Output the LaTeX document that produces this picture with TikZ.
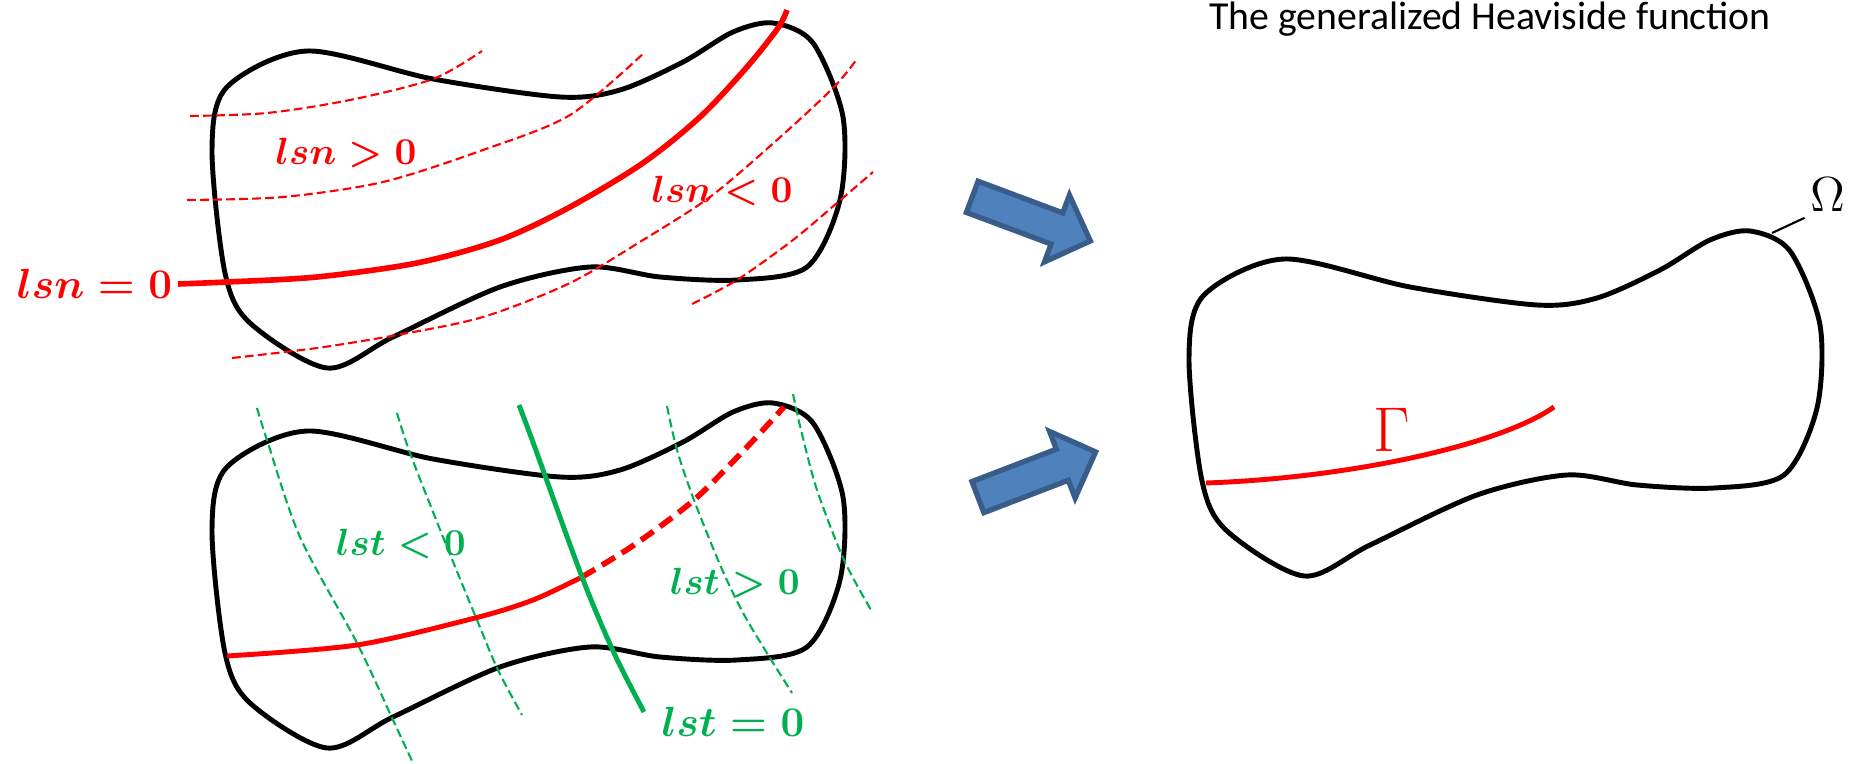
\RequirePackage{fix-cm}
\documentclass[tikz,border=0pt]{standalone}
\usepackage{amsmath,amssymb}
\usepackage{fontspec}
\newfontfamily\titlefont{Carlito}
\usepackage{tikz}
\usetikzlibrary{shapes.arrows}
\definecolor{lsred}{HTML}{FF0000}
\definecolor{lsgreen}{HTML}{00B050}
\definecolor{arrowblue}{HTML}{4F81BD}
\definecolor{arrowedge}{HTML}{385D8A}
\newcommand{\domainpath}{plot[smooth cycle] coordinates {(307,51) (433,79) (560,97) (620,90) (683,62) (733,32) (773,23) (813,43) (843,117) (840,200) (807,267) (737,280) (660,277) (590,267) (500,287) (393,337) (327,368) (250,323) (225,273) (212,150) (227,87)}}

\begin{document}
\begin{tikzpicture}[x=0.01cm,y=-0.01cm,every node/.style={inner sep=1.5pt},
  outline/.style={draw=black,line width=1.4pt},
  crack/.style={draw=lsred,line width=1.6pt},
  crackext/.style={draw=lsred,line width=1.6pt,dash pattern=on 4.3pt off 2.3pt},
  lsnlevel/.style={draw=lsred,line width=0.6pt,dash pattern=on 2.5pt off 1.2pt},
  lstlevel/.style={draw=lsgreen,line width=0.6pt,dash pattern=on 2.5pt off 1.2pt},
  front/.style={draw=lsgreen,line width=1.4pt},
  redlbl/.style={text=lsred,font=\fontsize{10.8}{12}\selectfont},
  greenlbl/.style={text=lsgreen,font=\fontsize{10.8}{12}\selectfont},
  zerolbl/.style={font=\fontsize{12}{14}\selectfont},
  bigarrow/.style={single arrow,draw=arrowedge,fill=arrowblue,line width=1.5pt,minimum height=1.26cm,inner xsep=0pt,inner ysep=0.14cm,single arrow head extend=0.19cm}]
\useasboundingbox (0,0) rectangle (1851,764);
% normal level set
\draw[outline] \domainpath;
\draw[lsnlevel] plot[smooth] coordinates {(190,116) (267,113) (350,100) (433,79) (482,51)};
\draw[lsnlevel] plot[smooth] coordinates {(187,200) (283,197) (383,182) (483,150) (570,115) (645,52)};
\draw[lsnlevel] plot[smooth] coordinates {(232,358) (317,348) (397,335) (483,317) (570,283) (643,240) (710,197) (777,140) (833,88) (857,59)};
\draw[lsnlevel] plot[smooth] coordinates {(692,304) (737,280) (793,240) (837,203) (873,172)};
\node[redlbl,zerolbl,anchor=east] (lsnzero) at (178,284) {$\boldsymbol{lsn=0}$};
\draw[crack] plot[smooth] coordinates {(178,284) (227,282) (317,277) (417,263) (500,240) (570,207) (643,163) (700,117) (747,67) (778,28) (787,10)};
\node[redlbl] (lsnpos) at (346,153) {$\boldsymbol{lsn>0}$};
\node[redlbl] (lsnneg) at (722,191) {$\boldsymbol{lsn<0}$};
% tangential level set
\begin{scope}[shift={(0,380)}]
\draw[outline] \domainpath;
\end{scope}
\draw[lstlevel] plot[smooth] coordinates {(257,408) (267,440) (300,537) (357,643) (393,720) (413,763)};
\draw[lstlevel] plot[smooth] coordinates {(397,413) (410,453) (443,537) (477,620) (498,670) (522,715)};
\draw[lstlevel] plot[smooth] coordinates {(667,406) (677,450) (694,500) (721,567) (747,620) (792,693)};
\draw[lstlevel] plot[smooth] coordinates {(793,394) (801,430) (817,490) (844,560) (871,610)};
\draw[crack,line width=1.4pt] plot[smooth] coordinates {(227,656) (357,645) (475,618) (533,600) (582,577)};
\draw[crackext] plot[smooth] coordinates {(582,577) (634,545) (694,500) (747,447) (784,407)};
\draw[front] plot[smooth] coordinates {(519,405) (534,445) (582,577) (614,653) (644,712)};
\node[greenlbl] (lstneg) at (401,544) {$\boldsymbol{lst<0}$};
\node[greenlbl] (lstpos) at (735,583) {$\boldsymbol{lst>0}$};
\node[greenlbl,zerolbl] (lstzero) at (733,722) {$\boldsymbol{lst=0}$};
% arrows
\node[bigarrow,rotate=-20.5] (arrowtop) at (1023.5,216) {};
\node[bigarrow,rotate=21] (arrowbot) at (1029,477.5) {};
% Heaviside domain
\node (title) at (1490,19) {\titlefont\fontsize{11.3}{13}\selectfont The generalized Heaviside function};
\begin{scope}[shift={(977,208)}]
\draw[outline] \domainpath;
\end{scope}
\draw[crack,line width=1.4pt] (1206,483) .. controls (1350,478) and (1500,445) .. (1554,407);
\node[text=lsred] (gamma) at (1392,430) {\fontsize{18}{20}\selectfont$\Gamma$};
\node (omega) at (1828,195) {\fontsize{14}{16}\selectfont$\Omega$};
\coordinate (omegafoot) at (1772,233);
\draw[line width=0.6pt] (omegafoot) -- (omega.south west);
\end{tikzpicture}
\end{document}
